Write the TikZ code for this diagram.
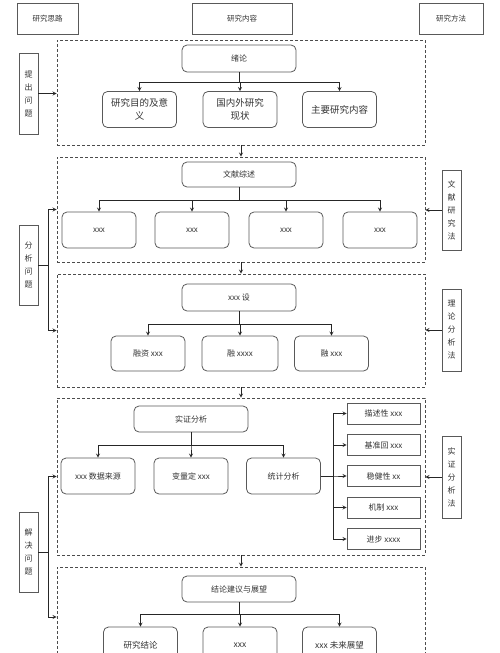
\documentclass[tikz,border=0pt]{standalone}
\usepackage{fontspec}
\newfontfamily\cjk{Noto Sans CJK SC}
\usetikzlibrary{arrows,positioning}
\tikzset{
      boxline/.style  = {draw=black!65, line width=0.8pt, text=black!80, inner sep=0pt, align=center},
      headbox/.style  = {boxline, font=\cjk\fontsize{7.5}{9}\selectfont, minimum height=31pt},
      sidebox/.style  = {boxline, font=\cjk\fontsize{8}{13}\selectfont, minimum width=19pt, minimum height=81pt},
      partbox/.style  = {draw=black!70, line width=0.8pt, dash pattern=on 3pt off 2pt, minimum width=368pt},
      topbox/.style   = {boxline, rounded corners=5pt, font=\cjk\fontsize{8}{10}\selectfont, minimum width=114pt, minimum height=26pt},
      subbox/.style   = {boxline, rounded corners=5pt, font=\cjk\fontsize{8}{10}\selectfont, minimum width=74pt, minimum height=36pt},
      bigbox/.style   = {subbox, font=\cjk\fontsize{9.5}{13}\selectfont},
      stepbox/.style  = {boxline, font=\cjk\fontsize{8}{10}\selectfont, minimum width=73pt, minimum height=21pt},
      link/.style     = {black!85, line width=0.8pt, ->, >=stealth},
      plain/.style    = {black!85, line width=0.8pt},
    }
\begin{document}
\begin{tikzpicture}[x=1pt,y=-1pt]
        \useasboundingbox (0,0) rectangle (500,653);
        \clip (0,0) rectangle (500,653);
        % headers
        \node[headbox, minimum width=61pt] (h1) at (47.5,18.5) {研究思路};
        \node[headbox, minimum width=100pt] (h2) at (242,18.5) {研究内容};
        \node[headbox, minimum width=64pt] (h3) at (451,18.5) {研究方法};

        % dashed parts
        \node[partbox, minimum height=105pt] (s1) at (241,92.5) {};
        \node[partbox, minimum height=105pt] (s2) at (241,209.5) {};
        \node[partbox, minimum height=113pt] (s3) at (241,330.5) {};
        \node[partbox, minimum height=157pt] (s4) at (241,476.5) {};
        \node[partbox, minimum height=100pt] (s5) at (241,617) {};

        % left column
        \node[sidebox] (q1) at (28.5,93.5) {提\\出\\问\\题};
        \node[sidebox, minimum height=80pt] (q2) at (28.5,265) {分\\析\\问\\题};
        \node[sidebox, minimum height=80pt] (q3) at (28.5,552) {解\\决\\问\\题};

        % right column
        \node[sidebox, minimum height=80pt] (m2) at (451.5,210) {文\\献\\研\\究\\法};
        \node[sidebox, minimum height=82pt] (m3) at (451.5,330) {理\\论\\分\\析\\法};
        \node[sidebox, minimum height=82pt] (m4) at (451.5,477) {实\\证\\分\\析\\法};

        % part 1
        \node[topbox, minimum height=27pt] (a0) at (239,58.5) {绪论};
        \node[bigbox] (a1) at (139.5,109.5) {研究目的及意\\义};
        \node[bigbox] (a2) at (240,109.5) {国内外研究\\现状};
        \node[bigbox] (a3) at (339.5,109.5) {主要研究内容};

        % part 2
        \node[topbox, minimum height=25pt] (b0) at (239,174.5) {文献综述};
        \node[subbox] (b1) at (99,230) {xxx};
        \node[subbox] (b2) at (192,230) {xxx};
        \node[subbox] (b3) at (286,230) {xxx};
        \node[subbox] (b4) at (380,230) {xxx};

        % part 3
        \node[topbox, minimum height=27pt] (c0) at (239,297.5) {xxx 设};
        \node[subbox, minimum height=35pt] (c1) at (148,353.5) {融资 xxx};
        \node[subbox, minimum height=35pt, minimum width=76pt] (c2) at (240,353.5) {融 xxxx};
        \node[subbox, minimum height=35pt] (c3) at (331.5,353.5) {融 xxx};

        % part 4
        \node[topbox] (d0) at (191,419) {实证分析};
        \node[subbox] (d1) at (98,476) {xxx 数据来源};
        \node[subbox] (d2) at (191,476) {变量定 xxx};
        \node[subbox] (d3) at (283.5,476) {统计分析};
        \node[stepbox] (e1) at (383.5,413.5) {描述性 xxx};
        \node[stepbox] (e2) at (383.5,445) {基准回 xxx};
        \node[stepbox] (e3) at (383.5,476) {稳健性 xx};
        \node[stepbox] (e4) at (383.5,507.5) {机制 xxx};
        \node[stepbox] (e5) at (383.5,539) {进步 xxxx};

        % part 5
        \node[topbox] (f0) at (239,589) {结论建议与展望};
        \node[subbox, font=\cjk\fontsize{8.5}{10}\selectfont] (f1) at (140.5,645) {研究结论};
        \node[subbox, font=\cjk\fontsize{8.5}{10}\selectfont] (f2) at (240,645) {xxx};
        \node[subbox, font=\cjk\fontsize{8.5}{10}\selectfont] (f3) at (339.5,645) {xxx 未来展望};

        % trees
        \foreach \c in {a1,a2,a3} \draw[link] (a0.south) -- ++(0,10) -| (\c.north);
        \foreach \c in {b1,b2,b3,b4} \draw[link] (b0.south) -- ++(0,13) -| (\c.north);
        \foreach \c in {c1,c2,c3} \draw[link] (c0.south) -- ++(0,13) -| (\c.north);
        \foreach \c in {d1,d2,d3} \draw[link] (d0.south) -- ++(0,13) -| (\c.north);
        \foreach \c in {e1,e2,e3,e4,e5} \draw[link] (d3.east) -- ++(12,0) |- (\c.west);
        \foreach \c in {f1,f2,f3} \draw[link] (f0.south) -- ++(0,12) -| (\c.north);

        % between parts
        \draw[link] (s1.south) -- (s2.north);
        \draw[link] (s2.south) -- (s3.north);
        \draw[link] (s3.south) -- (s4.north);
        \draw[link] (s4.south) -- (s5.north);

        % left side
        \draw[link] (q1.east) -- (q1.east -| s1.west);
        \draw[link] (q2.east) -- ++(10,0) |- (s2.west);
        \draw[link] (q2.east) -- ++(10,0) |- (s3.west);
        \draw[link] (q3.east) -- ++(10,0) |- (s4.west);
        \draw[link] (q3.east) -- ++(10,0) |- (s5.west);

        % right side
        \draw[link] (m2.west) -- (m2.west -| s2.east);
        \draw[link] (m3.west) -- (m3.west -| s3.east);
        \draw[link] (m4.west) -- (m4.west -| s4.east);
\end{tikzpicture}
\end{document}
